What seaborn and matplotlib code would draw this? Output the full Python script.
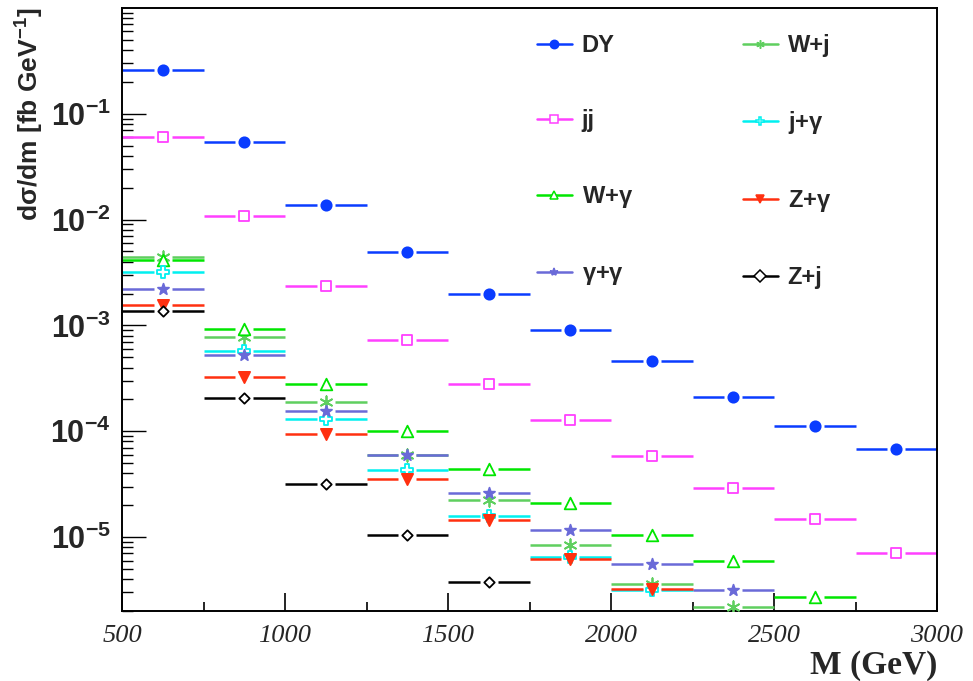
import numpy as np
import pandas as pd
import seaborn as sns
import matplotlib
matplotlib.use("Agg")
import matplotlib.pyplot as plt
from matplotlib.lines import Line2D
from matplotlib.ticker import FixedLocator, LogLocator, NullFormatter

# mass bins (GeV), lower edges, all 250 GeV wide
bin_lo = [500, 750, 1000, 1250, 1500, 1750, 2000, 2250, 2500, 2750]
bin_w = 250

nan = np.nan
dy = [0.262, 0.054, 0.0138, 0.00495, 0.00197, 9.0e-4, 4.6e-4, 2.11e-4, 1.11e-4, 6.84e-5]
jj = [0.0607, 0.0108, 0.00236, 7.3e-4, 2.78e-4, 1.28e-4, 5.83e-5, 2.9e-5, 1.49e-5, 7.1e-6]
w_gam = [0.00416, 9.2e-4, 2.78e-4, 1.01e-4, 4.43e-5, 2.11e-5, 1.04e-5, 5.97e-6, 2.73e-6, nan]
w_j = [0.0044, 7.85e-4, 1.89e-4, 5.96e-5, 2.25e-5, 8.4e-6, 3.62e-6, 2.18e-6, nan, nan]
j_gam = [0.00318, 5.74e-4, 1.31e-4, 4.3e-5, 1.59e-5, 6.5e-6, 3.15e-6, nan, nan, nan]
gam_gam = [0.00221, 5.26e-4, 1.56e-4, 5.96e-5, 2.59e-5, 1.16e-5, 5.6e-6, 3.18e-6, nan, nan]
z_gam = [0.00156, 3.26e-4, 9.4e-5, 3.52e-5, 1.46e-5, 6.2e-6, 3.2e-6, nan, nan, nan]
z_j = [0.00137, 2.08e-4, 3.17e-5, 1.05e-5, 3.79e-6, nan, nan, nan, nan, nan]

# label, values, colour, marker, filled, marker size
series = [
    ("DY", dy, "#0a3cff", "o", True, 55),
    ("jj", jj, "#ff40ff", "s", False, 60),
    ("W+$\\gamma$", w_gam, "#00e600", "^", False, 70),
    ("$\\gamma$+$\\gamma$", gam_gam, "#6a6ad8", "*", True, 70),
    ("W+j", w_j, "#5fcf5f", (6, 2, 0), True, 80),
    ("j+$\\gamma$", j_gam, "#00f0f0", "P", False, 75),
    ("Z+$\\gamma$", z_gam, "#ff3010", "v", True, 65),
    ("Z+j", z_j, "#000000", "D", False, 28),
]
draw_order = ["W+j", "W+$\\gamma$", "j+$\\gamma$", "$\\gamma$+$\\gamma$", "Z+$\\gamma$", "Z+j", "jj", "DY"]

sns.set_theme(style="ticks")
plt.rcParams["mathtext.fontset"] = "custom"
plt.rcParams["mathtext.bf"] = "Liberation Sans:bold"
plt.rcParams["mathtext.rm"] = "Liberation Sans:bold"
plt.rcParams["mathtext.it"] = "Liberation Sans:bold"
plt.rcParams["font.family"] = ["Liberation Sans", "DejaVu Sans"]

fig = plt.figure(figsize=(9.73, 6.81), dpi=100)
ax = fig.add_axes([122 / 973, 70 / 681, 815 / 973, 603 / 681])

gap = 28
by_name = {s[0]: s for s in series}
for name in draw_order:
    label, vals, col, mk, filled, size = by_name[name]
    df = pd.DataFrame({"lo": bin_lo, "val": vals}).dropna()
    df["mid"] = df["lo"] + bin_w / 2
    ax.hlines(df["val"], df["lo"], df["mid"] - gap, color=col, lw=1.8, zorder=2)
    ax.hlines(df["val"], df["mid"] + gap, df["lo"] + bin_w, color=col, lw=1.8, zorder=2)
    sns.scatterplot(data=df, x="mid", y="val", ax=ax, marker=mk, s=size,
                    color=col if filled else "white", edgecolor=col,
                    linewidth=1.3, zorder=3, legend=False)

ax.set_yscale("log")
ax.set_xlim(500, 3000)
ax.set_ylim(2e-6, 1.0)

ax.xaxis.set_major_locator(FixedLocator([500, 1000, 1500, 2000, 2500, 3000]))
ax.xaxis.set_minor_locator(FixedLocator([750, 1250, 1750, 2250, 2750]))
ax.set_xticklabels(["500", "1000", "1500", "2000", "2500", "3000"],
                   family="Liberation Serif", style="italic", fontsize=19)
ax.yaxis.set_major_locator(FixedLocator([1e-5, 1e-4, 1e-3, 1e-2, 1e-1]))
ax.yaxis.set_minor_locator(LogLocator(base=10, subs=np.arange(2, 10)))
ax.yaxis.set_minor_formatter(NullFormatter())
ax.set_yticklabels([r"$\mathbf{10^{-%d}}$" % k for k in [5, 4, 3, 2, 1]], fontsize=22)

ax.tick_params(axis="both", which="both", direction="in", top=False, right=False, color="black")
ax.tick_params(axis="y", which="major", length=17, width=1.0, pad=8)
ax.tick_params(axis="y", which="minor", length=8, width=1.0)
ax.tick_params(axis="x", which="major", length=13, width=1.2, pad=10)
ax.tick_params(axis="x", which="minor", length=6.5, width=1.2)
for sp in ax.spines.values():
    sp.set_color("black")
    sp.set_linewidth(1.4)
    sp.set_visible(True)

ax.set_xlabel("M (GeV)", family="Liberation Serif", weight="bold", fontsize=24)
ax.xaxis.set_label_coords(1.0, -0.091)
ax.xaxis.label.set_horizontalalignment("right")
ax.xaxis.label.set_verticalalignment("center")
ax.set_ylabel(r"d$\sigma$/dm [fb GeV$^{-1}$]", weight="bold", fontsize=19)
ax.yaxis.set_label_coords(-0.093, 1.0)
ax.yaxis.label.set_horizontalalignment("right")

handles = []
labels = []
for label, vals, col, mk, filled, size in series:
    handles.append(Line2D([], [], color=col, lw=1.8, marker=mk, markersize=6,
                          markerfacecolor=col if filled else "white",
                          markeredgecolor=col, markeredgewidth=1.1))
    labels.append(label)
leg = ax.legend(handles, labels, ncol=2, loc="upper left", bbox_to_anchor=(0.477, 1.0),
                frameon=False, prop={"weight": "bold", "size": 17},
                handlelength=1.48, handletextpad=0.42, labelspacing=2.2,
                columnspacing=4.66, borderpad=1.1, borderaxespad=0.0)

fig.savefig("out.png", dpi=100)
